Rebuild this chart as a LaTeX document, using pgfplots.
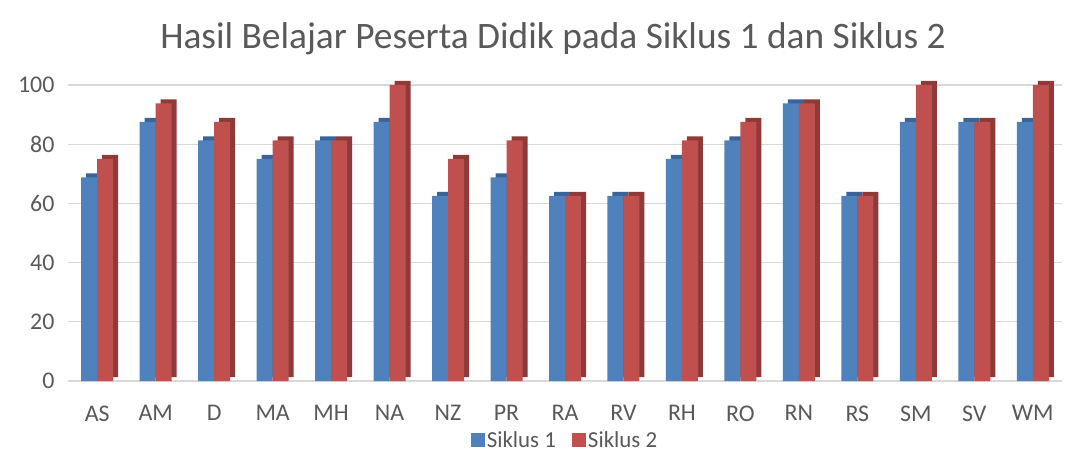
\documentclass[border=0pt]{standalone}
\usepackage{pgfplots}
\pgfplotsset{compat=1.18}
\usepackage{fontspec}
\setmainfont{Carlito}
\definecolor{sblue}{HTML}{4F81BD}
\definecolor{sred}{HTML}{C0504D}
\definecolor{sblued}{HTML}{3A6497}
\definecolor{sredd}{HTML}{8E3A38}
\definecolor{txt}{HTML}{595959}
\definecolor{grd}{HTML}{D9D9D9}
\pgfplotstableread{
x s1 s2
0 68.75 75
1 87.5 93.75
2 81.25 87.5
3 75 81.25
4 81.25 81.25
5 87.5 100
6 62.5 75
7 68.75 81.25
8 62.5 62.5
9 62.5 62.5
10 75 81.25
11 81.25 87.5
12 93.75 93.75
13 62.5 62.5
14 87.5 100
15 87.5 87.5
16 87.5 100
}\data
\begin{document}
\begin{tikzpicture}
\path[use as bounding box] (-68bp,-71bp) rectangle (1005bp,381bp);
\begin{axis}[
  at={(0,0)}, anchor=south west,
  scale only axis, width=994bp, height=296bp,
  xmin=-0.5, xmax=16.5, ymin=0, ymax=100,
  ytick={0,20,...,100},
  xtick={0,...,16},
  xticklabels={AS,AM,D,MA,MH,NA,NZ,PR,RA,RV,RH,RO,RN,RS,SM,SV,WM},
  axis line style={draw=none},
  tick style={draw=none},
  ymajorgrids, major grid style={grd, line width=1.2pt},
  /pgf/number format/assume math mode=true,
  ticklabel style={font=\fontsize{24}{28}\selectfont, text=txt},
  yticklabel style={xshift=-10bp},
  xticklabel style={yshift=-21bp},
  title={Hasil Belajar Peserta Didik pada Siklus 1 dan Siklus 2},
  title style={font=\fontsize{37.5}{42}\selectfont, text=txt, at={(0.5,1)}, anchor=south, yshift=21bp, xshift=-12bp},
  legend style={draw=none, font=\fontsize{23}{27}\selectfont, text=txt, at={(0.5,0)}, anchor=north, yshift=-46bp, legend columns=2, /tikz/every even column/.append style={column sep=14bp}},
  legend image code/.code={\fill[#1] (-3bp,-7bp) rectangle (11bp,7bp);},
  clip=false,
]
\addplot[ybar, bar width=16bp, bar shift=-8bp, fill=sblued, draw=none, xshift=5bp, yshift=4bp, forget plot] table[x=x,y=s1]{\data};
\addplot[ybar, bar width=16bp, bar shift=8bp, fill=sredd, draw=none, xshift=5bp, yshift=4bp, forget plot] table[x=x,y=s2]{\data};
\addplot[ybar, bar width=16bp, bar shift=-8bp, fill=sblue, draw=none] table[x=x,y=s1]{\data};
\addplot[ybar, bar width=16bp, bar shift=8bp, fill=sred, draw=none] table[x=x,y=s2]{\data};
\legend{Siklus 1, Siklus 2}
\end{axis}
\end{tikzpicture}
\end{document}
